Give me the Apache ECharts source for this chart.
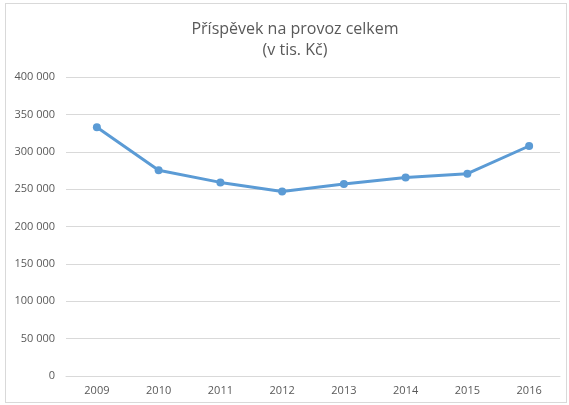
<!DOCTYPE html>
<html>
<head>
<meta charset="utf-8">
<script src="https://cdn.jsdelivr.net/npm/echarts@6/dist/echarts.min.js"></script>
<style>
html,body{margin:0;padding:0;background:#fff;}
#wrap{position:absolute;left:5px;top:3px;width:562px;height:400px;border:1px solid #d9d9d9;box-sizing:border-box;}
#chart{position:absolute;left:0;top:0;width:569px;height:405px;}
</style>
</head>
<body>
<div id="wrap"></div>
<div id="chart"></div>
<script>
const titleLines = ['Příspěvek na provoz celkem', '(v tis. Kč)'];
const categories = ['2009', '2010', '2011', '2012', '2013', '2014', '2015', '2016'];
const values = [332700, 275200, 259000, 246800, 256900, 265500, 270600, 307700];
const yMin = 0, yMax = 400000, yStep = 50000;

const chart = echarts.init(document.getElementById('chart'), null, {renderer: 'canvas'});
function fmt(v) {
  return String(v).replace(/\B(?=(\d{3})+(?!\d))/g, ' ');
}
chart.setOption({
  animation: false,
  backgroundColor: 'transparent',
  title: {
    text: titleLines.join('\n'),
    left: 290,
    textAlign: 'center',
    top: 14,
    textStyle: {
      fontFamily: 'Open Sans',
      fontSize: 16,
      fontWeight: 'normal',
      color: '#595959',
      lineHeight: 21
    }
  },
  grid: {left: 66, right: 9, top: 77, bottom: 29, containLabel: false},
  xAxis: {
    type: 'category',
    data: categories,
    boundaryGap: true,
    axisLine: {lineStyle: {color: '#d9d9d9', width: 1}},
    axisTick: {show: false},
    axisLabel: {color: '#595959', fontSize: 11, fontFamily: 'Open Sans', margin: 9}
  },
  yAxis: {
    type: 'value',
    min: yMin, max: yMax, interval: yStep,
    axisLine: {show: false},
    axisTick: {show: false},
    splitLine: {lineStyle: {color: '#d9d9d9', width: 1}},
    axisLabel: {color: '#595959', fontSize: 11, fontFamily: 'Open Sans', margin: 11, formatter: fmt}
  },
  series: [{
    type: 'line',
    data: values,
    symbol: 'circle',
    symbolSize: 8,
    lineStyle: {color: '#5B9BD5', width: 3},
    itemStyle: {color: '#5B9BD5'}
  }]
});
</script>
</body>
</html>
